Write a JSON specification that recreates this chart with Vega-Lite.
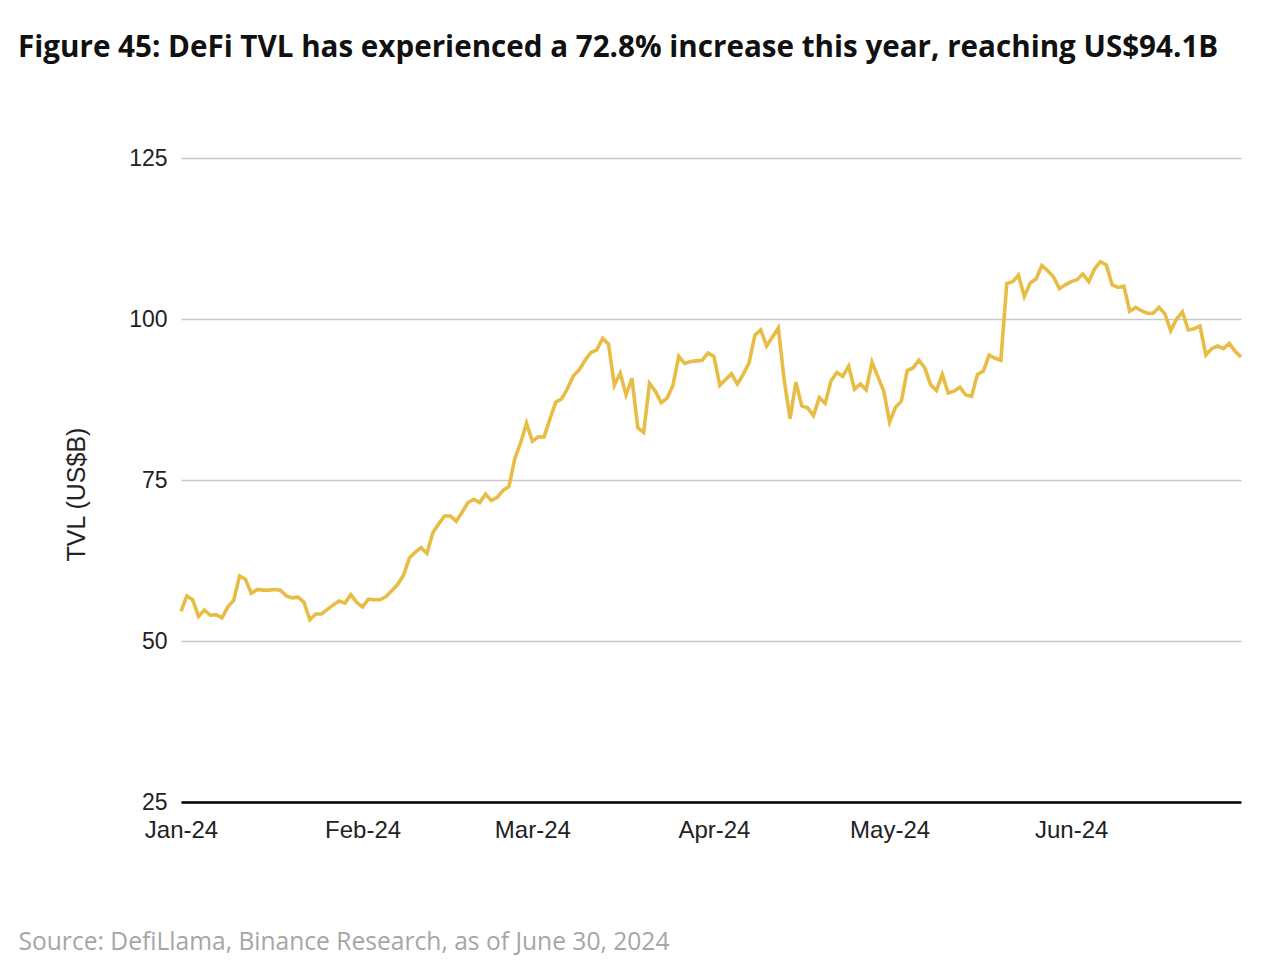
{
  "$schema": "https://vega.github.io/schema/vega-lite/v6.json",
  "width": 1060,
  "height": 644,
  "autosize": {"type": "none"},
  "padding": {"left": 181, "top": 158, "right": 39, "bottom": 173},
  "background": "white",
  "title": {
    "text": "Figure 45: DeFi TVL has experienced a 72.8% increase this year, reaching US$94.1B",
    "anchor": "start",
    "frame": "group",
    "dx": -163,
    "offset": 83,
    "font": "Open Sans",
    "fontSize": 29.6,
    "fontWeight": "bold",
    "color": "#111111"
  },
  "config": {
    "view": {"stroke": null},
    "font": "Liberation Sans"
  },
  "data": {
    "values": [
      {"date": "2024/01/01", "tvl": 54.6}, {"date": "2024/01/02", "tvl": 57.0}, {"date": "2024/01/03", "tvl": 56.4}, {"date": "2024/01/04", "tvl": 53.8},
      {"date": "2024/01/05", "tvl": 54.8}, {"date": "2024/01/06", "tvl": 54.0}, {"date": "2024/01/07", "tvl": 54.1}, {"date": "2024/01/08", "tvl": 53.6},
      {"date": "2024/01/09", "tvl": 55.3}, {"date": "2024/01/10", "tvl": 56.3}, {"date": "2024/01/11", "tvl": 60.1}, {"date": "2024/01/12", "tvl": 59.6},
      {"date": "2024/01/13", "tvl": 57.4}, {"date": "2024/01/14", "tvl": 58.0}, {"date": "2024/01/15", "tvl": 57.9}, {"date": "2024/01/16", "tvl": 57.9},
      {"date": "2024/01/17", "tvl": 58.0}, {"date": "2024/01/18", "tvl": 57.9}, {"date": "2024/01/19", "tvl": 57.0}, {"date": "2024/01/20", "tvl": 56.7},
      {"date": "2024/01/21", "tvl": 56.8}, {"date": "2024/01/22", "tvl": 56.0}, {"date": "2024/01/23", "tvl": 53.3}, {"date": "2024/01/24", "tvl": 54.2},
      {"date": "2024/01/25", "tvl": 54.2}, {"date": "2024/01/26", "tvl": 54.9}, {"date": "2024/01/27", "tvl": 55.6}, {"date": "2024/01/28", "tvl": 56.2},
      {"date": "2024/01/29", "tvl": 55.9}, {"date": "2024/01/30", "tvl": 57.2}, {"date": "2024/01/31", "tvl": 56.0},
      {"date": "2024/02/01", "tvl": 55.3}, {"date": "2024/02/02", "tvl": 56.5}, {"date": "2024/02/03", "tvl": 56.4}, {"date": "2024/02/04", "tvl": 56.4},
      {"date": "2024/02/05", "tvl": 56.9}, {"date": "2024/02/06", "tvl": 57.8}, {"date": "2024/02/07", "tvl": 58.8}, {"date": "2024/02/08", "tvl": 60.2},
      {"date": "2024/02/09", "tvl": 62.9}, {"date": "2024/02/10", "tvl": 63.8}, {"date": "2024/02/11", "tvl": 64.5}, {"date": "2024/02/12", "tvl": 63.6},
      {"date": "2024/02/13", "tvl": 66.8}, {"date": "2024/02/14", "tvl": 68.2}, {"date": "2024/02/15", "tvl": 69.4}, {"date": "2024/02/16", "tvl": 69.4},
      {"date": "2024/02/17", "tvl": 68.6}, {"date": "2024/02/18", "tvl": 70.0}, {"date": "2024/02/19", "tvl": 71.5}, {"date": "2024/02/20", "tvl": 72.0},
      {"date": "2024/02/21", "tvl": 71.5}, {"date": "2024/02/22", "tvl": 72.8}, {"date": "2024/02/23", "tvl": 71.8}, {"date": "2024/02/24", "tvl": 72.3},
      {"date": "2024/02/25", "tvl": 73.4}, {"date": "2024/02/26", "tvl": 74.0}, {"date": "2024/02/27", "tvl": 78.3}, {"date": "2024/02/28", "tvl": 80.8},
      {"date": "2024/02/29", "tvl": 83.8},
      {"date": "2024/03/01", "tvl": 81.0}, {"date": "2024/03/02", "tvl": 81.7}, {"date": "2024/03/03", "tvl": 81.7}, {"date": "2024/03/04", "tvl": 84.5},
      {"date": "2024/03/05", "tvl": 87.1}, {"date": "2024/03/06", "tvl": 87.6}, {"date": "2024/03/07", "tvl": 89.2}, {"date": "2024/03/08", "tvl": 91.2},
      {"date": "2024/03/09", "tvl": 92.1}, {"date": "2024/03/10", "tvl": 93.6}, {"date": "2024/03/11", "tvl": 94.8}, {"date": "2024/03/12", "tvl": 95.2},
      {"date": "2024/03/13", "tvl": 97.0}, {"date": "2024/03/14", "tvl": 96.1}, {"date": "2024/03/15", "tvl": 89.7}, {"date": "2024/03/16", "tvl": 91.6},
      {"date": "2024/03/17", "tvl": 88.2}, {"date": "2024/03/18", "tvl": 90.8}, {"date": "2024/03/19", "tvl": 83.1}, {"date": "2024/03/20", "tvl": 82.4},
      {"date": "2024/03/21", "tvl": 90.0}, {"date": "2024/03/22", "tvl": 88.8}, {"date": "2024/03/23", "tvl": 87.0}, {"date": "2024/03/24", "tvl": 87.7},
      {"date": "2024/03/25", "tvl": 89.7}, {"date": "2024/03/26", "tvl": 94.2}, {"date": "2024/03/27", "tvl": 93.1}, {"date": "2024/03/28", "tvl": 93.4},
      {"date": "2024/03/29", "tvl": 93.5}, {"date": "2024/03/30", "tvl": 93.6}, {"date": "2024/03/31", "tvl": 94.7},
      {"date": "2024/04/01", "tvl": 94.2}, {"date": "2024/04/02", "tvl": 89.7}, {"date": "2024/04/03", "tvl": 90.6}, {"date": "2024/04/04", "tvl": 91.5},
      {"date": "2024/04/05", "tvl": 89.9}, {"date": "2024/04/06", "tvl": 91.4}, {"date": "2024/04/07", "tvl": 93.2}, {"date": "2024/04/08", "tvl": 97.5},
      {"date": "2024/04/09", "tvl": 98.3}, {"date": "2024/04/10", "tvl": 95.8}, {"date": "2024/04/11", "tvl": 97.2}, {"date": "2024/04/12", "tvl": 98.6},
      {"date": "2024/04/13", "tvl": 90.5}, {"date": "2024/04/14", "tvl": 84.5}, {"date": "2024/04/15", "tvl": 90.2}, {"date": "2024/04/16", "tvl": 86.5},
      {"date": "2024/04/17", "tvl": 86.2}, {"date": "2024/04/18", "tvl": 85.0}, {"date": "2024/04/19", "tvl": 87.8}, {"date": "2024/04/20", "tvl": 86.9},
      {"date": "2024/04/21", "tvl": 90.4}, {"date": "2024/04/22", "tvl": 91.7}, {"date": "2024/04/23", "tvl": 91.1}, {"date": "2024/04/24", "tvl": 92.7},
      {"date": "2024/04/25", "tvl": 89.1}, {"date": "2024/04/26", "tvl": 89.9}, {"date": "2024/04/27", "tvl": 89.0}, {"date": "2024/04/28", "tvl": 93.3},
      {"date": "2024/04/29", "tvl": 91.0}, {"date": "2024/04/30", "tvl": 88.8},
      {"date": "2024/05/01", "tvl": 84.0}, {"date": "2024/05/02", "tvl": 86.3}, {"date": "2024/05/03", "tvl": 87.2}, {"date": "2024/05/04", "tvl": 92.0},
      {"date": "2024/05/05", "tvl": 92.4}, {"date": "2024/05/06", "tvl": 93.6}, {"date": "2024/05/07", "tvl": 92.4}, {"date": "2024/05/08", "tvl": 89.8},
      {"date": "2024/05/09", "tvl": 88.9}, {"date": "2024/05/10", "tvl": 91.4}, {"date": "2024/05/11", "tvl": 88.5}, {"date": "2024/05/12", "tvl": 88.8},
      {"date": "2024/05/13", "tvl": 89.4}, {"date": "2024/05/14", "tvl": 88.2}, {"date": "2024/05/15", "tvl": 88.0}, {"date": "2024/05/16", "tvl": 91.4},
      {"date": "2024/05/17", "tvl": 91.9}, {"date": "2024/05/18", "tvl": 94.4}, {"date": "2024/05/19", "tvl": 93.9}, {"date": "2024/05/20", "tvl": 93.6},
      {"date": "2024/05/21", "tvl": 105.5}, {"date": "2024/05/22", "tvl": 105.8}, {"date": "2024/05/23", "tvl": 106.8}, {"date": "2024/05/24", "tvl": 103.5},
      {"date": "2024/05/25", "tvl": 105.6}, {"date": "2024/05/26", "tvl": 106.2}, {"date": "2024/05/27", "tvl": 108.3}, {"date": "2024/05/28", "tvl": 107.5},
      {"date": "2024/05/29", "tvl": 106.5}, {"date": "2024/05/30", "tvl": 104.7}, {"date": "2024/05/31", "tvl": 105.3},
      {"date": "2024/06/01", "tvl": 105.8}, {"date": "2024/06/02", "tvl": 106.1}, {"date": "2024/06/03", "tvl": 107.0}, {"date": "2024/06/04", "tvl": 105.8},
      {"date": "2024/06/05", "tvl": 107.8}, {"date": "2024/06/06", "tvl": 108.9}, {"date": "2024/06/07", "tvl": 108.4}, {"date": "2024/06/08", "tvl": 105.3},
      {"date": "2024/06/09", "tvl": 104.9}, {"date": "2024/06/10", "tvl": 105.1}, {"date": "2024/06/11", "tvl": 101.2}, {"date": "2024/06/12", "tvl": 101.8},
      {"date": "2024/06/13", "tvl": 101.3}, {"date": "2024/06/14", "tvl": 100.9}, {"date": "2024/06/15", "tvl": 100.9}, {"date": "2024/06/16", "tvl": 101.8},
      {"date": "2024/06/17", "tvl": 100.8}, {"date": "2024/06/18", "tvl": 98.2}, {"date": "2024/06/19", "tvl": 100.0}, {"date": "2024/06/20", "tvl": 101.1},
      {"date": "2024/06/21", "tvl": 98.3}, {"date": "2024/06/22", "tvl": 98.5}, {"date": "2024/06/23", "tvl": 98.9}, {"date": "2024/06/24", "tvl": 94.4},
      {"date": "2024/06/25", "tvl": 95.4}, {"date": "2024/06/26", "tvl": 95.8}, {"date": "2024/06/27", "tvl": 95.4}, {"date": "2024/06/28", "tvl": 96.2},
      {"date": "2024/06/29", "tvl": 95.0}, {"date": "2024/06/30", "tvl": 94.1}
    ]
  },
  "mark": {"type": "line", "color": "#E8BD45", "strokeWidth": 3.6, "strokeJoin": "miter"},
  "encoding": {
    "x": {
      "field": "date",
      "type": "temporal",
      "scale": {"domain": [{"year": 2024, "month": 1, "date": 1}, {"year": 2024, "month": 6, "date": 30}], "nice": false},
      "axis": {
        "format": "%b-%y",
        "tickCount": {"interval": "month", "step": 1},
        "grid": false,
        "ticks": false,
        "domain": true,
        "domainColor": "#000000",
        "domainWidth": 2.5,
        "labelFontSize": 24,
        "labelColor": "#222222",
        "labelPadding": 16,
        "labelAlign": "center",
        "labelFlush": false,
        "title": "Source: DefiLlama, Binance Research, as of June 30, 2024",
        "titleX": -163,
        "titleY": 140,
        "titleAlign": "left",
        "titleBaseline": "middle",
        "titleFont": "Open Sans",
        "titleFontSize": 24.6,
        "titleFontWeight": "normal",
        "titleColor": "#A6A6A6"
      }
    },
    "y": {
      "field": "tvl",
      "type": "quantitative",
      "scale": {"domain": [25, 125], "nice": false, "zero": false},
      "axis": {
        "values": [25, 50, 75, 100, 125],
        "grid": true,
        "gridColor": "#C8C8C8",
        "gridWidth": 1.5,
        "domain": false,
        "ticks": false,
        "labelFontSize": 23,
        "labelColor": "#222222",
        "labelPadding": 14,
        "title": "TVL (US$B)",
        "titleFontSize": 25,
        "titleFontWeight": "normal",
        "titleColor": "#222222",
        "titleX": -105,
        "titleY": 336,
        "titleAngle": 270,
        "titleAlign": "center",
        "titleBaseline": "middle"
      }
    }
  }
}
